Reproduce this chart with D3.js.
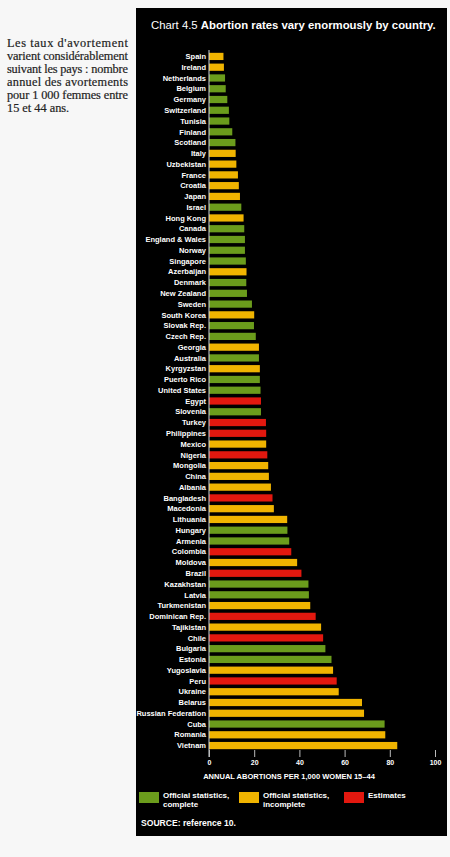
<!DOCTYPE html>
<html><head><meta charset="utf-8">
<script src="https://cdn.jsdelivr.net/npm/d3@7"></script>
<style>
html,body{margin:0;padding:0;background:#f7f7f7;}
svg{display:block;}
</style></head>
<body>
<script>
const countries = ["Spain","Ireland","Netherlands","Belgium","Germany","Switzerland","Tunisia","Finland","Scotland","Italy","Uzbekistan","France","Croatia","Japan","Israel","Hong Kong","Canada","England & Wales","Norway","Singapore","Azerbaijan","Denmark","New Zealand","Sweden","South Korea","Slovak Rep.","Czech Rep.","Georgia","Australia","Kyrgyzstan","Puerto Rico","United States","Egypt","Slovenia","Turkey","Philippines","Mexico","Nigeria","Mongolia","China","Albania","Bangladesh","Macedonia","Lithuania","Hungary","Armenia","Colombia","Moldova","Brazil","Kazakhstan","Latvia","Turkmenistan","Dominican Rep.","Tajikistan","Chile","Bulgaria","Estonia","Yugoslavia","Peru","Ukraine","Belarus","Russian Federation","Cuba","Romania","Vietnam"];
const rates = [6.4,6.6,7.1,7.4,8.1,8.8,9.0,10.3,11.7,11.8,12.1,12.8,13.2,13.7,14.3,15.3,15.6,15.9,15.9,16.3,16.6,16.5,16.8,19.0,20.0,19.9,20.7,22.1,22.1,22.5,22.5,22.8,23.0,23.0,25.2,25.3,25.3,25.8,26.2,26.5,27.4,28.1,28.7,34.6,34.7,35.5,36.4,39.0,40.9,44.0,44.2,44.8,47.2,49.6,50.5,51.5,54.2,54.9,56.5,57.4,67.7,68.6,77.7,78.0,83.3];
// status: C = official statistics, complete; I = official statistics, incomplete; E = estimates
const status = ["I","I","C","C","C","C","C","C","C","I","I","I","I","I","C","I","C","C","C","C","I","C","C","C","I","C","C","I","C","I","C","C","E","C","E","E","I","E","I","I","I","E","I","I","C","C","E","I","E","C","C","I","E","I","E","C","C","I","E","I","I","I","C","I","I"];
const statusKeys = ["C","I","E"];
const statusLabels = [["Official statistics,","complete"],["Official statistics,","incomplete"],["Estimates"]];
const xTicks = [0,20,40,60,80,100];
const axisTitle = "ANNUAL ABORTIONS PER 1,000 WOMEN 15\u201344";
const frenchLines = ["Les taux d'avortement","varient considérablement","suivant les pays : nombre","annuel des avortements","pour 1 000 femmes entre","15 et 44 ans."];

const W = 450, H = 857;
const svg = d3.select("body").append("svg").attr("width", W).attr("height", H);
svg.append("rect").attr("width", W).attr("height", H).attr("fill", "#f7f7f7");

// French caption
const cap = svg.append("g").attr("font-family", "'Liberation Serif', 'DejaVu Serif', serif")
  .attr("font-size", 12.3).attr("fill", "#222").attr("stroke", "#222").attr("stroke-width", 0.2);
frenchLines.forEach((t, i) => {
  const el = cap.append("text").attr("x", 7).attr("y", 47 + i * 12.9).text(t);
  if (i < frenchLines.length - 1) el.attr("textLength", 121).attr("lengthAdjust", "spacing");
});

// Black panel
svg.append("rect").attr("x", 136).attr("y", 8).attr("width", 311).attr("height", 828).attr("fill", "#000");

const color = d3.scaleOrdinal().domain(statusKeys).range(["#6b9c1c", "#f0b400", "#e2180f"]);

function fit(sel, width) {
  const n = sel.node();
  const fs = parseFloat(sel.attr("font-size"));
  const w = n.getComputedTextLength();
  sel.attr("font-size", fs * width / w);
}

// Title
const title = svg.append("text").attr("x", 151).attr("y", 29).attr("fill", "#fff")
  .attr("font-family", "'Liberation Sans', Arial, sans-serif").attr("font-size", 11);
title.append("tspan").text("Chart 4.5 ");
title.append("tspan").attr("font-weight", "bold").text("Abortion rates vary enormously by country.");
fit(title, 285);

const x = d3.scaleLinear().domain([0, 100]).range([209, 435]);
const y = d3.scaleBand().domain(countries).range([51, 751]).paddingInner(0.33).paddingOuter(0.17);

const data = countries.map((c, i) => ({c, v: rates[i], s: status[i]}));

svg.append("g").selectAll("rect").data(data).join("rect")
  .attr("x", x(0)).attr("y", d => y(d.c))
  .attr("width", d => x(d.v) - x(0)).attr("height", y.bandwidth())
  .attr("fill", d => color(d.s));

// Country labels
const lab = svg.append("g").attr("font-family", "'Liberation Sans', Arial, sans-serif")
  .attr("font-weight", "bold").attr("font-size", 7.5).attr("fill", "#fff").attr("text-anchor", "end");
lab.selectAll("text").data(data).join("text")
  .attr("x", 206).attr("y", d => y(d.c) + y.bandwidth() / 2).attr("dy", "0.36em").text(d => d.c);

// vertical baseline
svg.append("line").attr("x1", x(0)).attr("x2", x(0)).attr("y1", 50).attr("y2", 757)
  .attr("stroke", "#cfd6dc").attr("stroke-width", 1);

// x axis
const ax = svg.append("g").attr("transform", "translate(0,750)")
  .call(d3.axisBottom(x).tickValues(xTicks).tickSize(7).tickPadding(3).tickFormat(d3.format("d")));
ax.select(".domain").remove();
ax.selectAll("line").attr("stroke", "#bbb");
ax.selectAll("text").attr("fill", "#fff").attr("font-size", 7).attr("font-weight", "bold")
  .attr("font-family", "'Liberation Sans', Arial, sans-serif");

const at = svg.append("text").attr("x", 289).attr("y", 779).attr("text-anchor", "middle")
  .attr("fill", "#fff").attr("font-weight", "bold").attr("font-size", 6.5)
  .attr("font-family", "'Liberation Sans', Arial, sans-serif").text(axisTitle);
fit(at, 172);

// Legend
const legX = [139, 239, 344];
const leg = svg.append("g").attr("font-family", "'Liberation Sans', Arial, sans-serif")
  .attr("font-weight", "bold").attr("fill", "#fff");
statusKeys.forEach((k, i) => {
  leg.append("rect").attr("x", legX[i]).attr("y", 792).attr("width", 20).attr("height", 11).attr("fill", color(k));
  statusLabels[i].forEach((t, j) => {
    leg.append("text").attr("x", legX[i] + 24).attr("y", 798 + j * 8.6).attr("font-size", 8).text(t);
  });
});

const src = svg.append("text").attr("x", 141).attr("y", 826).attr("fill", "#fff")
  .attr("font-family", "'Liberation Sans', Arial, sans-serif").attr("font-weight", "bold").attr("font-size", 8)
  .text("SOURCE: reference 10.");
fit(src, 95);
</script>
</body></html>
